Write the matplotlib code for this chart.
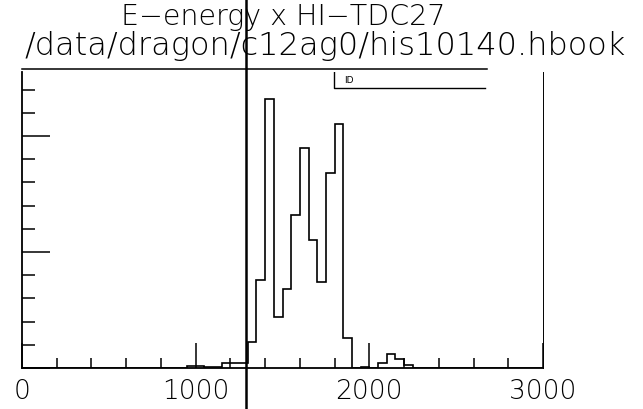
import numpy as np
import matplotlib.pyplot as plt

# histogram contents, 50-unit bins from 0 to 3000
bin_width = 50
counts = [0, 0, 0, 0, 0, 0, 0, 0, 0, 0,
          0, 0, 0, 0, 0, 0, 0, 0, 0, 1,
          1, 0.5, 0.5, 2, 2, 2, 11, 38, 116, 22,
          34, 66, 95, 55, 37, 84, 105, 13, 0, 0.3,
          0, 2, 6, 4, 1.5, 0, 0, 0, 0, 0,
          0, 0, 0, 0, 0, 0, 0, 0, 0, 0]
cut_x = 1290
x_range = (0, 3000)
y_top = 127.6
x_ticklabels = ['0', '1000', '2000', '3000']
title_1 = 'E\u2212energy x HI\u2212TDC27'
title_2 = '/data/dragon/c12ag0/his10140.hbook'

edges = np.arange(len(counts) + 1) * bin_width

plt.rcParams['font.family'] = ['DejaVu Sans']
plt.rcParams['font.weight'] = 'light'

fig = plt.figure(figsize=(6.43, 4.09), dpi=100)
ax = fig.add_axes([22 / 643, 41 / 409, 521 / 643, 296 / 409])

ax.stairs(counts, edges, color='black', linewidth=1.2)
ax.set_xlim(*x_range)
ax.set_ylim(0, y_top)

# PAW style inward ticks, no y labels
ax.set_xticks([0, 1000, 2000, 3000], labels=x_ticklabels)
ax.set_xticks(np.arange(0, 3001, 200), minor=True)
ax.set_yticks(np.arange(0, y_top, 50), labels=[])
ax.set_yticks(np.arange(0, y_top, 10), minor=True)
ax.tick_params(which='major', direction='in', length=18, width=1.1,
               labelsize=19, pad=8)
ax.tick_params(which='minor', direction='in', length=7, width=1.1)
ax.tick_params(axis='y', which='major', length=20)
ax.tick_params(axis='y', which='minor', length=9)
ax.tick_params(top=False, right=False)

for side in ['left', 'bottom']:
    ax.spines[side].set_linewidth(1.3)
ax.spines['right'].set_linewidth(0.7)
ax.spines['right'].set_linestyle((0, (6, 1)))
ax.spines['top'].set_visible(False)
ax.plot([0, 2675], [y_top * 1.01, y_top * 1.01], color='black', lw=1.1, clip_on=False)

# ID box
id_left, id_right, id_y = 1796, 2665, 120.7
ax.plot([id_left, id_left, id_right], [y_top, id_y, id_y], color='black', lw=1.0)
ax.text(id_left + 60, (y_top + id_y) / 2, 'ID', fontsize=6.5, va='center',
        fontweight='normal')

# cut line crossing the whole picture
ax.axvline(cut_x, ymin=-0.14, ymax=1.25, color='black', lw=1.8, clip_on=False)

fig.text(283 / 643, 1 - 17 / 409, title_1, ha='center', va='center', fontsize=20.5)
fig.text(325 / 643, 1 - 46 / 409, title_2, ha='center', va='center', fontsize=23)

fig.savefig('out.png', dpi=100)
